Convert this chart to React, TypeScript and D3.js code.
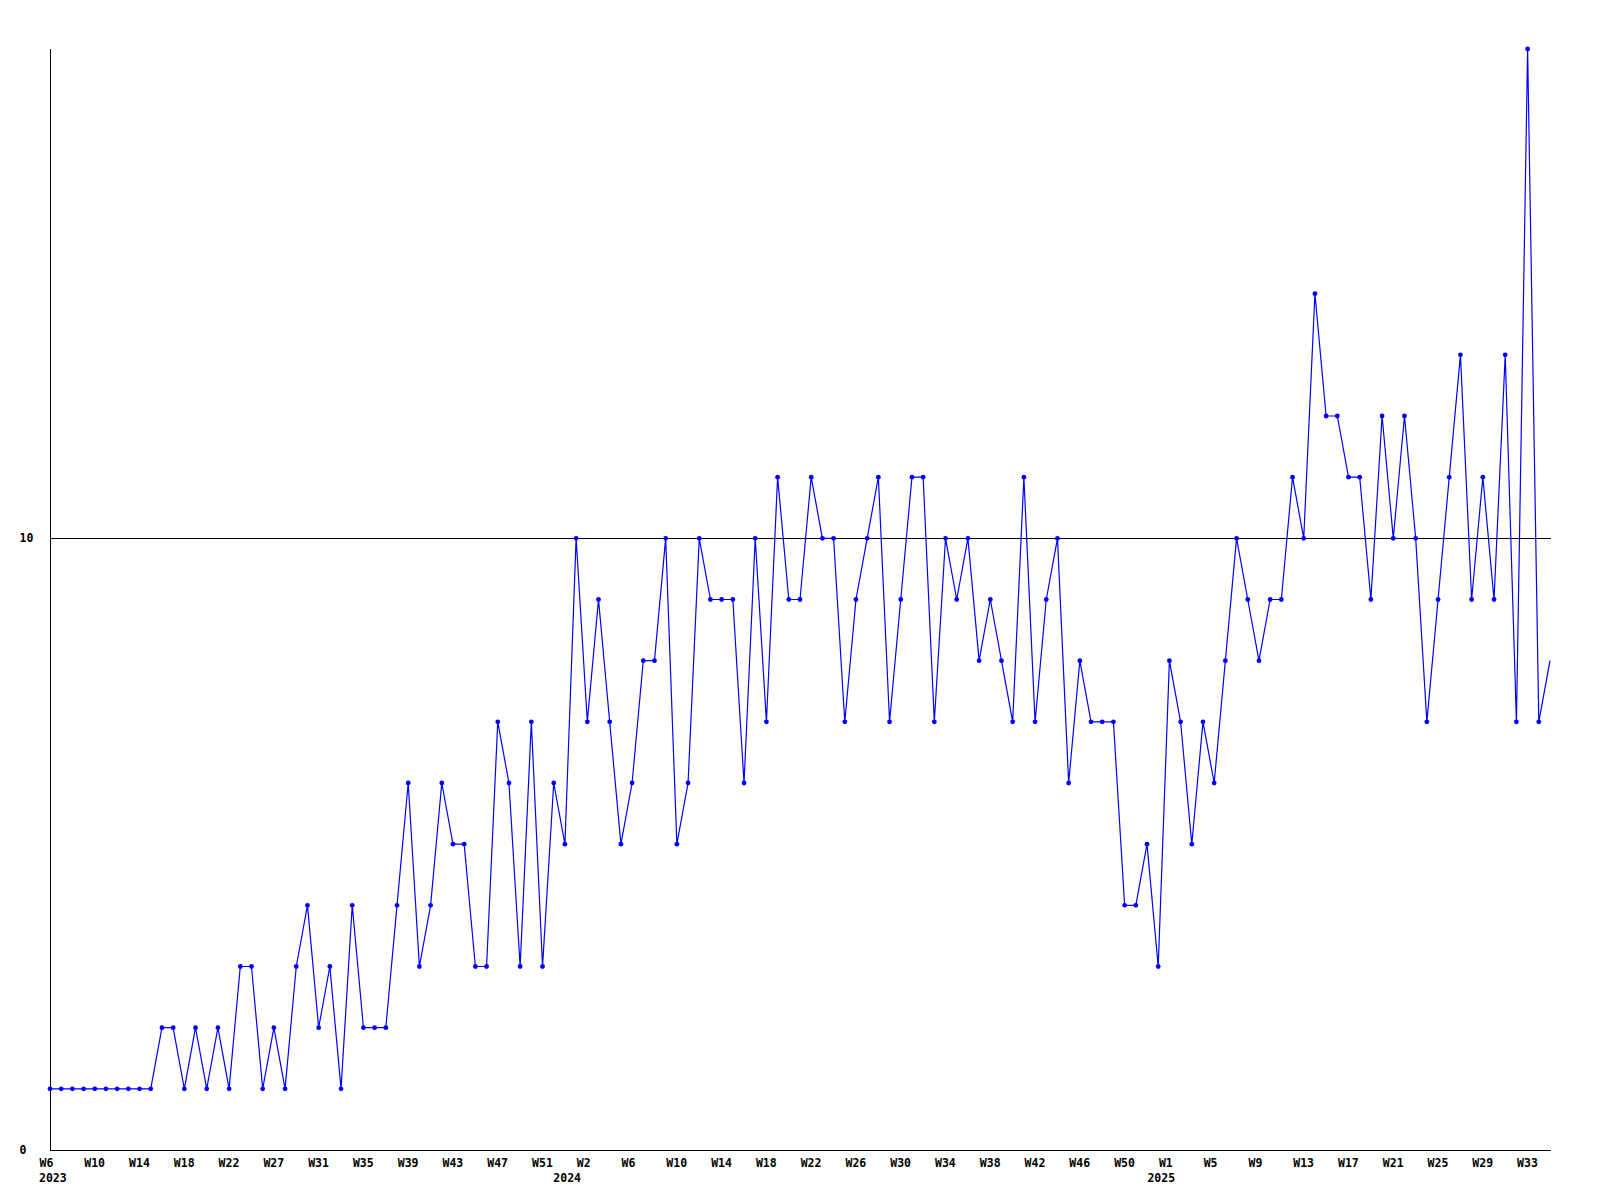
import React from "react";
import * as d3 from "d3";

// Weekly counts, one per week starting 2023-W6
const values: number[] = [
  1, 1, 1, 1, 1, 1, 1, 1, 1, 1,
  2, 2, 1, 2, 1, 2, 1, 3, 3, 1,
  2, 1, 3, 4, 2, 3, 1, 4, 2, 2,
  2, 4, 6, 3, 4, 6, 5, 5, 3, 3,
  7, 6, 3, 7, 3, 6, 5, 10, 7, 9,
  7, 5, 6, 8, 8, 10, 5, 6, 10, 9,
  9, 9, 6, 10, 7, 11, 9, 9, 11, 10,
  10, 7, 9, 10, 11, 7, 9, 11, 11, 7,
  10, 9, 10, 8, 9, 8, 7, 11, 7, 9,
  10, 6, 8, 7, 7, 7, 4, 4, 5, 3,
  8, 7, 5, 7, 6, 8, 10, 9, 8, 9,
  9, 11, 10, 14, 12, 12, 11, 11, 9, 12,
  10, 12, 10, 7, 9, 11, 13, 9, 11, 9,
  13, 7, 18, 7, 8,
];

// x tick labels, one every 4 weeks
const weekLabels: string[] = [
  "W6", "W10", "W14", "W18", "W22", "W27", "W31", "W35", "W39", "W43", "W47", "W51",
  "W2", "W6", "W10", "W14", "W18", "W22", "W26", "W30", "W34", "W38", "W42", "W46", "W50",
  "W1", "W5", "W9", "W13", "W17", "W21", "W25", "W29", "W33",
];
const tickEvery = 4;

// year labels: text and index of the week tick they sit under
const yearNames: string[] = ["2023", "2024", "2025"];
const yearTickIndex: number[] = [0, 12, 25];

// y axis labelled values
const yTicks: number[] = [0, 10];
const yMax = 18;

const W = 1600;
const H = 1200;
const left = 50;
const right = 1550;
const top = 49;
const bottom = 1150;

const FONT = "'DejaVu Sans Mono', 'Liberation Mono', monospace";
const yearDx = [-11, -34, -22];

export default function App() {
  const x = d3.scaleLinear().domain([0, values.length - 1]).range([left, right]);
  const y = d3.scaleLinear().domain([0, yMax]).range([bottom, top]);
  const line = d3
    .line<number>()
    .x((_, i) => x(i))
    .y((d) => y(d));

  return (
    <svg
      width={W}
      height={H}
      style={{ position: "absolute", left: 0, top: 0, background: "#fff" }}
    >
      <defs>
        <clipPath id="plot">
          <rect x={left} y={0} width={right - left + 1} height={bottom + 5} />
        </clipPath>
        <clipPath id="marks">
          <rect x={left - 5} y={0} width={right - left - 2} height={bottom + 5} />
        </clipPath>
      </defs>
      <rect x={0} y={0} width={W} height={H} fill="#fff" />

      {/* grid lines */}
      {yTicks
        .filter((t) => t > 0)
        .map((t) => (
          <line
            key={"g" + t}
            x1={left}
            x2={right + 1}
            y1={Math.round(y(t)) + 0.5}
            y2={Math.round(y(t)) + 0.5}
            stroke="#000"
            strokeWidth={1}
            shapeRendering="crispEdges"
          />
        ))}

      {/* axes */}
      <line
        x1={left + 0.5}
        x2={left + 0.5}
        y1={top}
        y2={bottom + 0.5}
        stroke="#000"
        shapeRendering="crispEdges"
      />
      <line
        x1={left}
        x2={right + 1}
        y1={bottom + 0.5}
        y2={bottom + 0.5}
        stroke="#000"
        shapeRendering="crispEdges"
      />

      {/* y labels */}
      {yTicks.map((t) => (
        <text
          key={"y" + t}
          x={19.5}
          y={y(t) + 4}
          fontFamily={FONT}
          fontWeight="bold"
          fontSize={11.5}
          fill="#000"
        >
          {t}
        </text>
      ))}

      {/* x labels */}
      {weekLabels.map((lab, k) => (
        <text
          key={"x" + k}
          x={x(k * tickEvery) - 10.5}
          y={1167}
          fontFamily={FONT}
          fontWeight="bold"
          fontSize={11.5}
          fill="#000"
        >
          {lab}
        </text>
      ))}
      {yearNames.map((yr, k) => (
        <text
          key={"yr" + k}
          x={x(yearTickIndex[k] * tickEvery) + yearDx[k]}
          y={1181.5}
          fontFamily={FONT}
          fontWeight="bold"
          fontSize={11.5}
          fill="#000"
        >
          {yr}
        </text>
      ))}

      {/* series */}
      <g clipPath="url(#plot)">
        <path d={line(values) || ""} fill="none" stroke="#0000ff" strokeWidth={1.2} />
      </g>
      <g clipPath="url(#marks)">
        {values.map((v, i) => (
          <circle key={"m" + i} cx={x(i)} cy={y(v)} r={2.4} fill="#0000ff" />
        ))}
      </g>
    </svg>
  );
}
